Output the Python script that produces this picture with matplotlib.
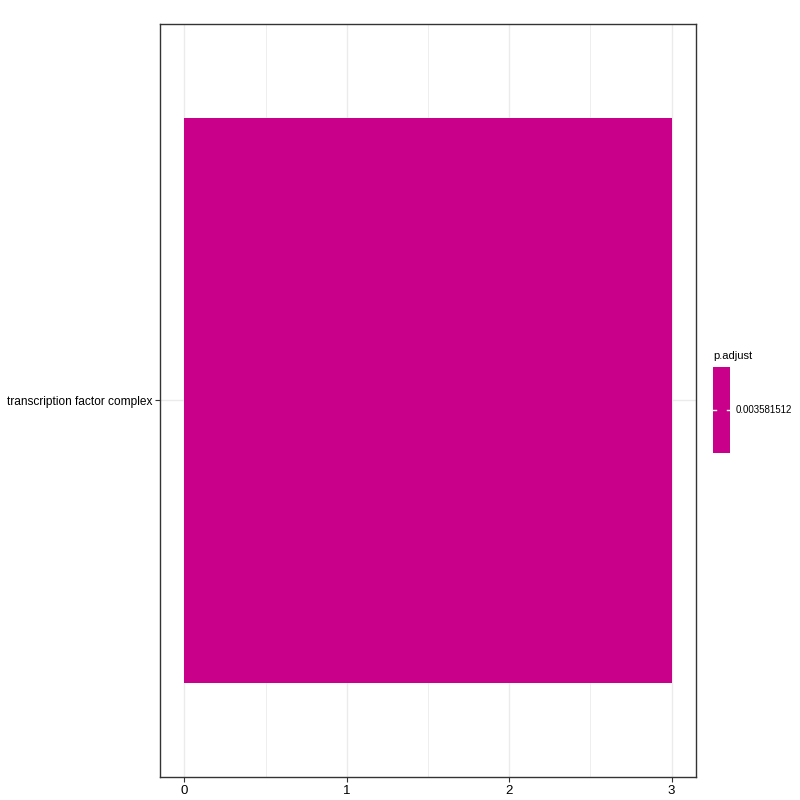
import matplotlib

matplotlib.use("Agg")
import matplotlib.pyplot as plt

plt.rcParams["font.family"] = ["Liberation Sans", "DejaVu Sans"]

categories = ["transcription factor complex"]
counts = [3]
p_adjust = [0.003581512]
bar_color = "#C8008A"

W, H = 800, 800
fig = plt.figure(figsize=(8, 8), dpi=100)

# main panel (pixel box converted to figure fractions)
ax = fig.add_axes([160 / W, 1 - 777 / H, (696 - 160) / W, (777 - 24) / H])
ypos = list(range(len(categories)))
ax.barh(ypos, counts, height=0.9, color=bar_color, zorder=2)

ax.set_xlim(-0.15 * max(counts) / 3, max(counts) * 1.05)
ax.set_ylim(-0.6, len(categories) - 0.4)
ax.set_xticks(range(0, max(counts) + 1))
ax.set_xticks([i + 0.5 for i in range(max(counts))], minor=True)
ax.set_yticks(ypos)
ax.set_yticklabels(categories)

ax.grid(True, which="major", color="#EBEBEB", linewidth=1.0, zorder=0)
ax.grid(True, which="minor", axis="x", color="#EBEBEB", linewidth=0.6, zorder=0)
ax.tick_params(which="minor", length=0)
ax.tick_params(which="major", length=3.5, width=0.8, color="#333333",
               labelsize=9.5, labelcolor="black", pad=2)
ax.tick_params(axis="y", labelsize=8.6)
for s in ax.spines.values():
    s.set_color("#333333")
    s.set_linewidth(1.0)
ax.set_axisbelow(True)

# colour legend
cax = fig.add_axes([713 / W, 1 - 453 / H, 17 / W, 86 / H])
cax.axhspan(0, 1, color=bar_color)
cax.set_xlim(0, 1)
cax.set_ylim(0, 1)
for side in cax.spines.values():
    side.set_visible(False)
cax.set_xticks([])
cax.set_yticks([])
cax.plot([0, 0.2], [0.5, 0.5], color="white", linewidth=1)
cax.plot([0.8, 1], [0.5, 0.5], color="white", linewidth=1)
fig.text(713 / W, 1 - 356 / H, "p.adjust", fontsize=8, va="center", ha="left")
fig.text(736 / W, 1 - 410 / H, f"{p_adjust[0]:.9f}", fontsize=7, va="center", ha="left")

fig.savefig("out.png", dpi=100)
